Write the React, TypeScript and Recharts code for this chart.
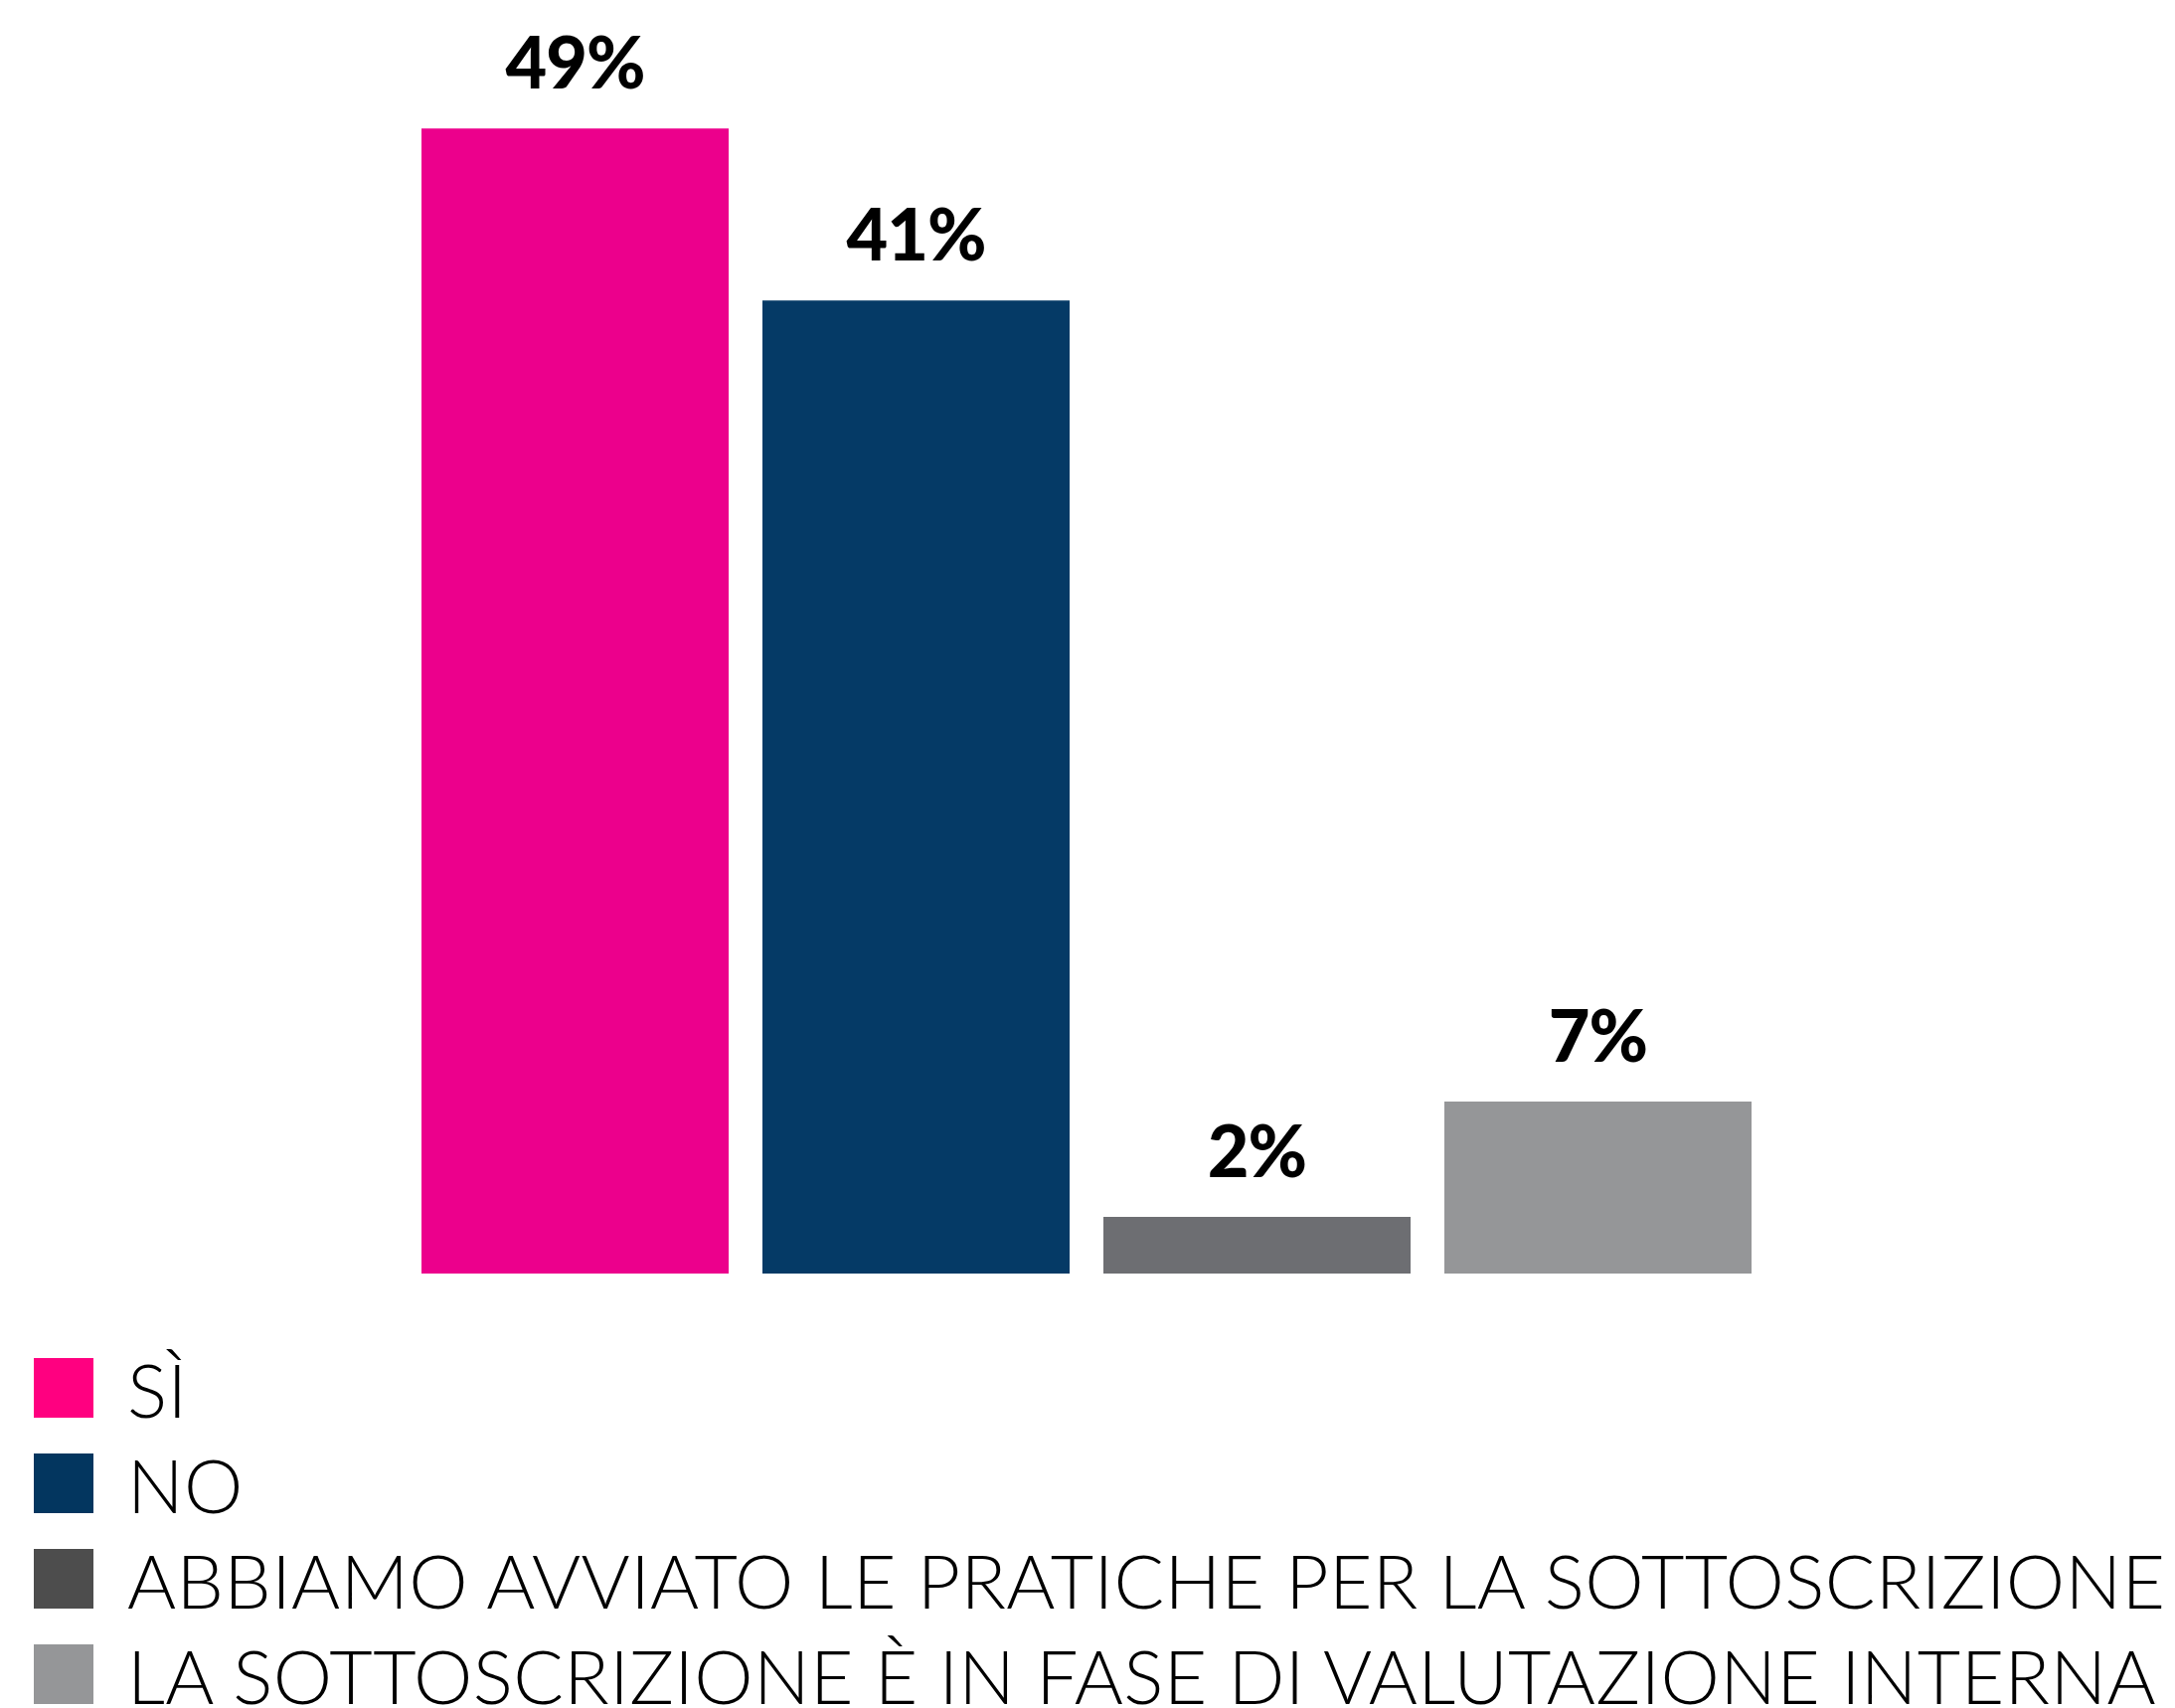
import { BarChart, Bar, XAxis, YAxis, Cell, LabelList, Legend } from 'recharts';

const categories = [
  'SÌ',
  'NO',
  'ABBIAMO AVVIATO LE PRATICHE PER LA SOTTOSCRIZIONE',
  'LA SOTTOSCRIZIONE È IN FASE DI VALUTAZIONE INTERNA',
];
const values = [48.6, 41.3, 2.4, 7.3];
const barColors = ['#EC008C', '#053A66', '#6D6E72', '#959698'];
const legendColors = ['#FF0080', '#03365F', '#4D4D4D', '#959698'];

const data = categories.map((name, i) => ({ name, value: values[i] }));

const W = 2188;
const H = 1718;
const LEGEND_H = 437;

function LegendBox() {
  return (
    <svg width={W} height={LEGEND_H} style={{ display: 'block' }}>
      {categories.map((c, i) => {
        const top = 85 + i * 96;
        return (
          <g key={c}>
            <rect x={34} y={top} width={60} height={60} fill={legendColors[i]} />
            <text
              x={128}
              y={top + 60}
              fontFamily="Lato"
              fontWeight={300}
              fontSize={75}
              letterSpacing={0.4}
              fill="#000"
            >
              {c}
            </text>
          </g>
        );
      })}
    </svg>
  );
}

export default function App() {
  return (
    <div style={{ position: 'absolute', left: 0, top: 0, width: W, height: H, background: '#fff' }}>
      <BarChart
        width={W}
        height={H}
        data={data}
        margin={{ top: 96, right: 409, bottom: 0, left: 407 }}
        barCategoryGap={17}
      >
        <XAxis dataKey="name" hide />
        <YAxis hide domain={[0, 50]} />
        <Legend
          verticalAlign="bottom"
          align="left"
          content={() => <LegendBox />}
          wrapperStyle={{ left: 0, bottom: 0, width: W, height: LEGEND_H }}
        />
        <Bar dataKey="value" isAnimationActive={false}>
          {data.map((d, i) => (
            <Cell key={d.name} fill={barColors[i]} />
          ))}
          <LabelList
            dataKey="value"
            position="top"
            offset={40}
            formatter={(v: number) => `${Math.round(v)}%`}
            fontFamily="Lato"
            fontWeight={900}
            fontSize={72}
            letterSpacing={-1}
            fill="#000"
          />
        </Bar>
      </BarChart>
    </div>
  );
}
